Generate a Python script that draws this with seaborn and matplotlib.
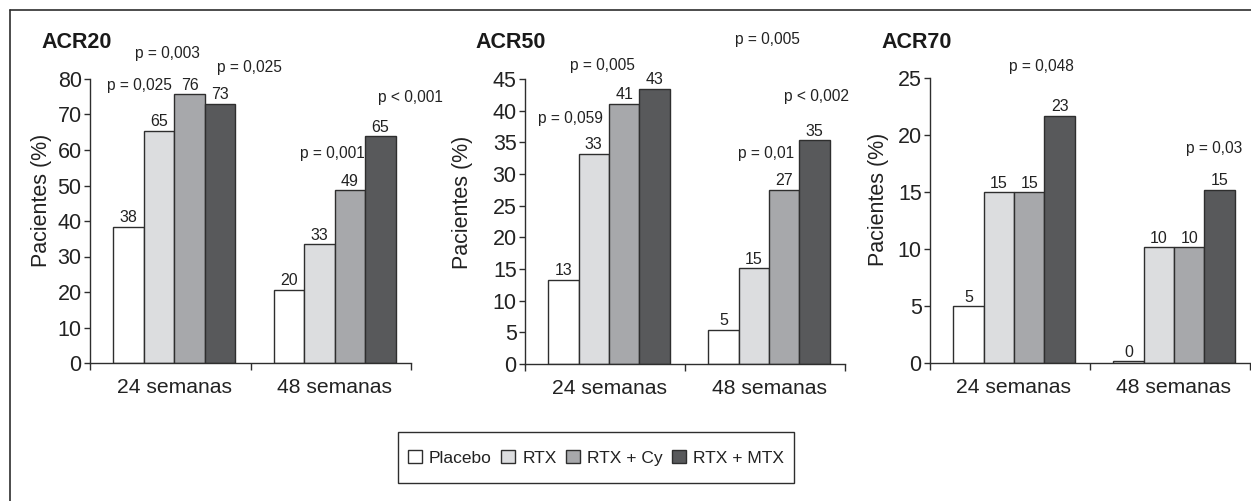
import numpy as np
import pandas as pds
import matplotlib
matplotlib.use('Agg')
import matplotlib.pyplot as plt
from matplotlib.patches import Patch, Rectangle
from matplotlib.lines import Line2D
import seaborn as sns

# datos
semanas = ['24 semanas', '48 semanas']
grupos = ['Placebo', 'RTX', 'RTX + Cy', 'RTX + MTX']
colores = ['#ffffff', '#dcdddf', '#a7a8ab', '#58595b']

acr20_alto = [[38.4, 65.4, 75.7, 73.0], [20.6, 33.5, 48.7, 63.9]]
acr20_txt = [['38', '65', '76', '73'], ['20', '33', '49', '65']]
acr50_alto = [[13.3, 33.2, 41.1, 43.5], [5.4, 15.1, 27.5, 35.3]]
acr50_txt = [['13', '33', '41', '43'], ['5', '15', '27', '35']]
acr70_alto = [[5.0, 15.0, 15.0, 21.7], [0.15, 10.15, 10.15, 15.2]]
acr70_txt = [['5', '15', '15', '23'], ['0', '10', '10', '15']]

acr20_p = ['p = 0,025', 'p = 0,003', 'p = 0,025', 'p = 0,001', 'p < 0,001']
acr50_p = ['p = 0,059', 'p = 0,005', 'p = 0,005', 'p = 0,01', 'p < 0,002']
acr70_p = ['p = 0,048', 'p = 0,03']

W, H = 1251, 501
EDGE = '#2e2e2e'
TXT = '#222222'


def tabla(alto):
    rows = []
    for i, s in enumerate(semanas):
        for j, g in enumerate(grupos):
            rows.append({'semana': s, 'grupo': g, 'valor': alto[i][j]})
    return pds.DataFrame(rows)


def panel(fig, left, right, bottom, top, alto, txt, ymax, step):
    ax = fig.add_axes([left / W, 1 - bottom / H, (right - left) / W, (bottom - top) / H])
    sns.barplot(data=tabla(alto), x='semana', y='valor', hue='grupo',
                order=semanas, hue_order=grupos, palette=colores,
                width=0.76, edgecolor=EDGE, linewidth=1.0, legend=False,
                saturation=1, ax=ax)
    for j, cont in enumerate(ax.containers):
        ax.bar_label(cont, labels=[txt[0][j], txt[1][j]], padding=1,
                     fontsize=11.5, color=TXT)
    d = 0.025
    ax.set_xlim(-0.5 - d, 1.5 - d)
    ax.set_ylim(0, ymax)
    ax.set_yticks(np.arange(0, ymax + 1, step))
    ax.set_xticks([0, 1])
    ax.set_xticks([-0.5 - d, 0.5 - d, 1.5 - d], minor=True)
    ax.tick_params(axis='x', which='major', bottom=True, length=0, pad=11,
                   labelsize=15.2, labelcolor=TXT)
    ax.tick_params(axis='x', which='minor', bottom=True, length=5, width=1,
                   direction='out', color=EDGE)
    ax.tick_params(axis='y', left=True, length=4, width=1, pad=2,
                   labelsize=15.5, labelcolor=TXT, color=EDGE)
    ax.set_xlabel('')
    ax.set_ylabel('Pacientes (%)', fontsize=15.5, color=TXT)
    for s in ['top', 'right']:
        ax.spines[s].set_visible(False)
    for s in ['left', 'bottom']:
        ax.spines[s].set_color(EDGE)
        ax.spines[s].set_linewidth(1.0)
    return ax


def main():
    sns.set_style('white')
    plt.rcParams['font.family'] = ['Liberation Sans', 'DejaVu Sans']
    fig = plt.figure(figsize=(W / 100, H / 100), dpi=100)

    ax1 = panel(fig, 90, 411, 363, 79, acr20_alto, acr20_txt, 80, 10)
    ax2 = panel(fig, 525, 845, 364, 79, acr50_alto, acr50_txt, 45, 5)
    ax3 = panel(fig, 930, 1250, 363, 78, acr70_alto, acr70_txt, 25, 5)

    ax1.yaxis.set_label_coords(-0.118, 0.574)
    ax2.yaxis.set_label_coords(-0.1625, 0.568)
    ax3.yaxis.set_label_coords(-0.128, 0.575)

    # titulos
    tit = dict(fontsize=15.5, fontweight='bold', color='#1a1a1a', va='center', ha='left')
    fig.text(41 / W, 1 - 43 / H, 'ACR20', **tit)
    fig.text(475 / W, 1 - 43 / H, 'ACR50', **tit)
    fig.text(881 / W, 1 - 43 / H, 'ACR70', **tit)

    # valores p
    pk = dict(fontsize=11.2, color=TXT, ha='center', va='center', clip_on=False)
    for (x, y), t in zip([(-0.22, 78.3), (-0.04, 87.3), (0.466, 83.1), (0.985, 58.9), (1.47, 74.9)], acr20_p):
        ax1.text(x, y, t, **pk)
    for (x, y), t in zip([(-0.24, 38.7), (-0.04, 47.1), (0.99, 51.2), (0.98, 33.3), (1.30, 42.2)], acr50_p):
        ax2.text(x, y, t, **pk)
    for (x, y), t in zip([(0.17, 26.0), (1.25, 18.8)], acr70_p):
        ax3.text(x, y, t, **pk)

    # leyenda (marco aparte)
    handles = [Patch(facecolor=c, edgecolor=EDGE, linewidth=1.0, label=g)
               for c, g in zip(colores, grupos)]
    leg = fig.legend(handles=handles, loc='center', ncol=4,
                     bbox_to_anchor=(596 / W, 1 - 458 / H), fontsize=12.5,
                     frameon=False, handlelength=0.8, handleheight=0.8,
                     handletextpad=0.4, columnspacing=0.55, borderpad=0,
                     borderaxespad=0)
    for t in leg.get_texts():
        t.set_color(TXT)
    fig.add_artist(Rectangle((398 / W, 1 - 483 / H), 396 / W, 51 / H,
                             transform=fig.transFigure, fill=False,
                             edgecolor=EDGE, lw=1.0))

    # marco exterior
    fig.add_artist(Line2D([10 / W, 1], [1 - 10 / H, 1 - 10 / H], color=EDGE, lw=1.2))
    fig.add_artist(Line2D([10 / W, 10 / W], [0, 1 - 10 / H], color=EDGE, lw=1.2))

    fig.savefig('out.png', dpi=100)


if __name__ == '__main__':
    main()
